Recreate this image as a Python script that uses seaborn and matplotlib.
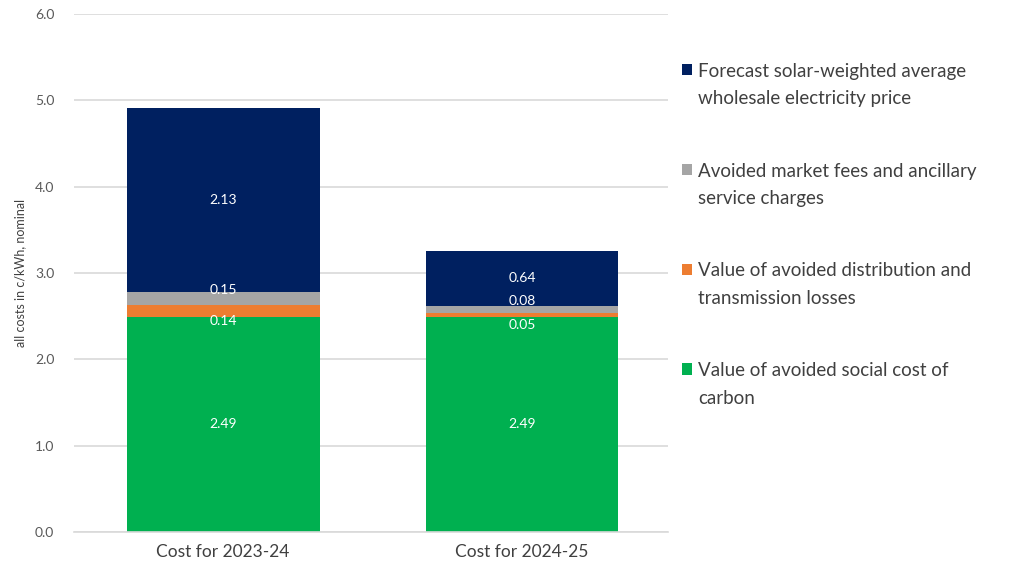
import numpy as np
import pandas as pd
import matplotlib
matplotlib.use("Agg")
import matplotlib.pyplot as plt
import seaborn as sns
from matplotlib.patches import Patch, Rectangle
from matplotlib.legend_handler import HandlerPatch

# chart data
periods = ["Cost for 2023-24", "Cost for 2024-25"]
carbon = [2.49, 2.49]
losses = [0.14, 0.05]
fees = [0.15, 0.08]
wholesale = [2.13, 0.64]

series_names = [
    "Value of avoided social cost of\ncarbon",
    "Value of avoided distribution and\ntransmission losses",
    "Avoided market fees and ancillary\nservice charges",
    "Forecast solar-weighted average\nwholesale electricity price",
]
colors = ["#00B050", "#ED7D31", "#A5A5A5", "#002060"]

sns.set_theme(style="white")
plt.rcParams["font.family"] = ["Lato", "DejaVu Sans"]

layers = [carbon, losses, fees, wholesale]
cum = np.cumsum(np.array(layers), axis=0)

fig = plt.figure(figsize=(10.11, 5.75), dpi=100)
ax = fig.add_axes([0.073, 0.0748, 0.588, 0.901])

# draw cumulative bars from top layer down so they stack
for i in range(len(layers) - 1, -1, -1):
    df = pd.DataFrame({"period": periods, "value": cum[i]})
    sns.barplot(data=df, x="period", y="value", color=colors[i],
                width=0.645, saturation=1, ax=ax, zorder=2,
                linewidth=0, edgecolor="none")

# segment labels
label_shift = [0, -7, 6, 0]
for j in range(len(periods)):
    for i, vals in enumerate(layers):
        bottom = cum[i][j] - vals[j]
        mid = bottom + vals[j] / 2
        ax.annotate(f"{vals[j]:.2f}", (j, mid), xytext=(0, label_shift[i]),
                    textcoords="offset points", ha="center", va="center",
                    color="white", fontsize=10, zorder=5)

ax.set_ylim(0, 6)
ax.set_xlim(-0.5, 1.49)
ax.set_yticks(np.arange(0, 6.01, 1.0))
ax.set_yticklabels([f"{v:.1f}" for v in np.arange(0, 6.01, 1.0)])
ax.yaxis.grid(True, color="#D9D9D9", linewidth=1.2, zorder=0)
ax.set_axisbelow(True)
for s in ["top", "right", "left"]:
    ax.spines[s].set_visible(False)
ax.spines["bottom"].set_color("#D9D9D9")
ax.spines["bottom"].set_linewidth(1.2)
ax.tick_params(axis="y", colors="#595959", labelsize=10, length=0, pad=14)
ax.tick_params(axis="x", colors="#404040", labelsize=12.5, length=0, pad=9)
ax.set_xlabel("")
ax.set_ylabel("all costs in c/kWh, nominal", fontsize=9, color="#404040", labelpad=6)


def top_square(legend, orig_handle, xdescent, ydescent, width, height, fontsize):
    # square aligned with the first text line
    return Rectangle((-xdescent, -ydescent + 0.85 * fontsize), width, height)


handles = [Patch(facecolor=colors[i], edgecolor="none") for i in range(3, -1, -1)]
labels = [series_names[i] for i in range(3, -1, -1)]
leg = fig.legend(handles, labels, loc="upper left", bbox_to_anchor=(0.658, 0.92),
                 frameon=False, fontsize=13.5, handlelength=0.55, handleheight=0.55,
                 handletextpad=0.3, labelspacing=2.95, labelcolor="#404040",
                 handler_map={Patch: HandlerPatch(patch_func=top_square)})
for t in leg.get_texts():
    t.set_linespacing(1.75)

fig.savefig("out.png", dpi=100)
